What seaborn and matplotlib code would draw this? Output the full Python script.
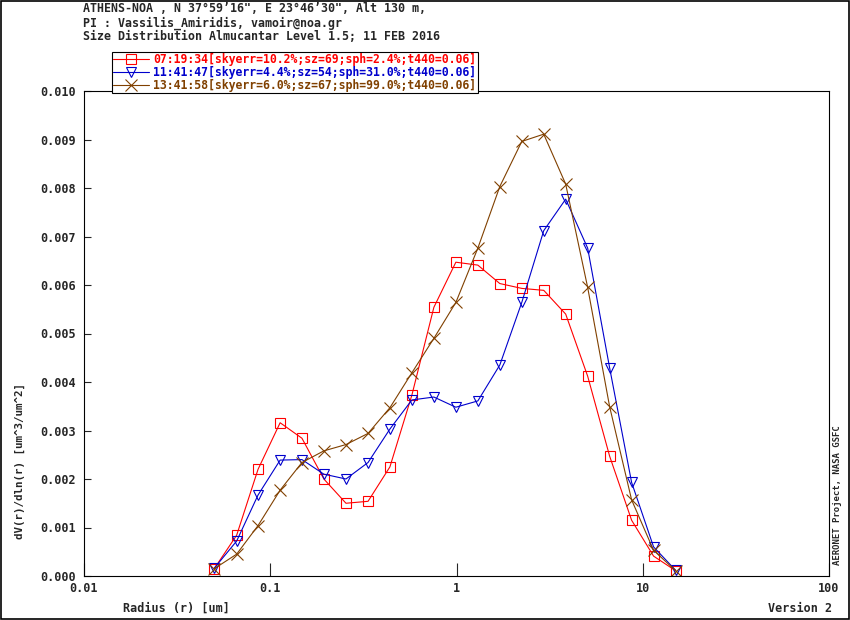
import pandas as pd
import matplotlib
matplotlib.use("Agg")
import matplotlib.pyplot as plt
import seaborn as sns
from matplotlib.patches import Rectangle

# chart style
sns.set_style("ticks")
plt.rcParams['font.family'] = ['DejaVu Sans Mono']
plt.rcParams['font.weight'] = 'bold'

# AERONET size distribution radius bins (um)
radius = [0.050, 0.066, 0.086, 0.113, 0.148, 0.194, 0.255, 0.335, 0.439, 0.576, 0.756,
          0.992, 1.302, 1.708, 2.241, 2.940, 3.857, 5.061, 6.641, 8.713, 11.432, 15.000]

# dV(r)/dln(r) for the three almucantar retrievals
dv_0719 = [0.00015, 0.00084, 0.00220, 0.00316, 0.00284, 0.00200, 0.00150, 0.00154, 0.00225, 0.00373, 0.00554,
           0.00647, 0.00641, 0.00603, 0.00593, 0.00589, 0.00540, 0.00412, 0.00247, 0.00115, 0.00041, 0.00011]
dv_1141 = [0.00016, 0.00072, 0.00167, 0.00239, 0.00240, 0.00210, 0.00200, 0.00234, 0.00303, 0.00363, 0.00369,
           0.00348, 0.00361, 0.00435, 0.00564, 0.00712, 0.00777, 0.00676, 0.00429, 0.00193, 0.00060, 0.00012]
dv_1341 = [0.00015, 0.00045, 0.00104, 0.00177, 0.00234, 0.00258, 0.00271, 0.00294, 0.00347, 0.00419, 0.00490,
           0.00564, 0.00676, 0.00803, 0.00896, 0.00911, 0.00808, 0.00595, 0.00349, 0.00157, 0.00053, 0.00011]

labels = [
    "07:19:34[skyerr=10.2%;sz=69;sph=2.4%;t440=0.06]",
    "11:41:47[skyerr=4.4%;sz=54;sph=31.0%;t440=0.06]",
    "13:41:58[skyerr=6.0%;sz=67;sph=99.0%;t440=0.06]",
]
colors = ["#ff0000", "#0000cc", "#804000"]
markers = ["s", "v", "x"]
msizes = [7.5, 7.5, 8.5]

df = pd.DataFrame({
    "radius": radius * 3,
    "dv": dv_0719 + dv_1141 + dv_1341,
    "label": [labels[0]] * len(radius) + [labels[1]] * len(radius) + [labels[2]] * len(radius),
})

fig = plt.figure(figsize=(8.5, 6.2), dpi=100)
ax = fig.add_axes([84 / 850, 1 - 576 / 620, (829 - 84) / 850, (576 - 91) / 620])

for lab, c, m, ms in zip(labels, colors, markers, msizes):
    sns.lineplot(
        data=df[df["label"] == lab],
        x="radius",
        y="dv",
        color=c,
        marker=m,
        markersize=ms,
        mfc="none",
        mec=c,
        mew=0.8,
        lw=0.8,
        label=lab,
        ax=ax,
    )

ax.set_xscale("log")
ax.set_xlim(0.01, 100)
ax.set_ylim(0, 0.010)
ax.set_xticks([0.01, 0.1, 1, 10, 100])
ax.set_xticklabels(["0.01", "0.1", "1", "10", "100"])
ax.minorticks_off()
ax.set_yticks([i / 1000 for i in range(11)])
ax.set_yticklabels([f"{i / 1000:.3f}" for i in range(11)])
ax.tick_params(axis="y", direction="in", length=5, width=0.8, pad=5.5, labelsize=8.5)
ax.tick_params(axis="x", direction="in", length=9.5, width=0.8, pad=4, labelsize=8.5)
for s in ax.spines.values():
    s.set_linewidth(0.8)
    s.set_color("black")
ax.set_xlabel("")
ax.set_ylabel("")

# legend box at the top of the plot
handles, labs = ax.get_legend_handles_labels()
ax.get_legend().remove()
fig.legend(
    handles, labs,
    loc="upper left",
    bbox_to_anchor=(112 / 850, 1 - 52 / 620),
    borderaxespad=0,
    borderpad=0.1,
    handlelength=3.1,
    handletextpad=0.4,
    labelspacing=0.0,
    frameon=True,
    fancybox=False,
    framealpha=1,
    edgecolor="black",
    labelcolor="linecolor",
    prop={"family": "DejaVu Sans Mono", "weight": "bold", "size": 8.3},
).get_frame().set_linewidth(0.8)

# header text
header = [
    "ATHENS-NOA , N 37\u00b059\u201916\", E 23\u00b046\u201930\", Alt 130 m,",
    "PI : Vassilis_Amiridis, vamoir@noa.gr",
    "Size Distribution Almucantar Level 1.5; 11 FEB 2016",
]
for txt, ypix in zip(header, [9, 23, 36]):
    fig.text(83 / 850, 1 - ypix / 620, txt, fontsize=8.4, fontweight="bold", va="center", ha="left")

fig.text(20 / 850, 1 - 461 / 620, "dV(r)/dln(r) [um^3/um^2]", rotation=90,
         fontsize=7.8, fontweight="bold", va="center", ha="center")
fig.text(123 / 850, 1 - 608 / 620, "Radius (r) [um]", fontsize=8.5, fontweight="bold", va="center", ha="left")
fig.text(832 / 850, 1 - 608 / 620, "Version 2", fontsize=8.5, fontweight="bold", va="center", ha="right")
fig.text(838 / 850, 1 - 565 / 620, "AERONET Project, NASA GSFC", rotation=90,
         fontsize=6.5, fontweight="bold", va="bottom", ha="center")

# outer frame
fig.patches.append(Rectangle((0.001, 0.001), 0.998, 0.997, transform=fig.transFigure,
                             fill=False, edgecolor="black", lw=1.2))

plt.savefig("out.png", dpi=100)
